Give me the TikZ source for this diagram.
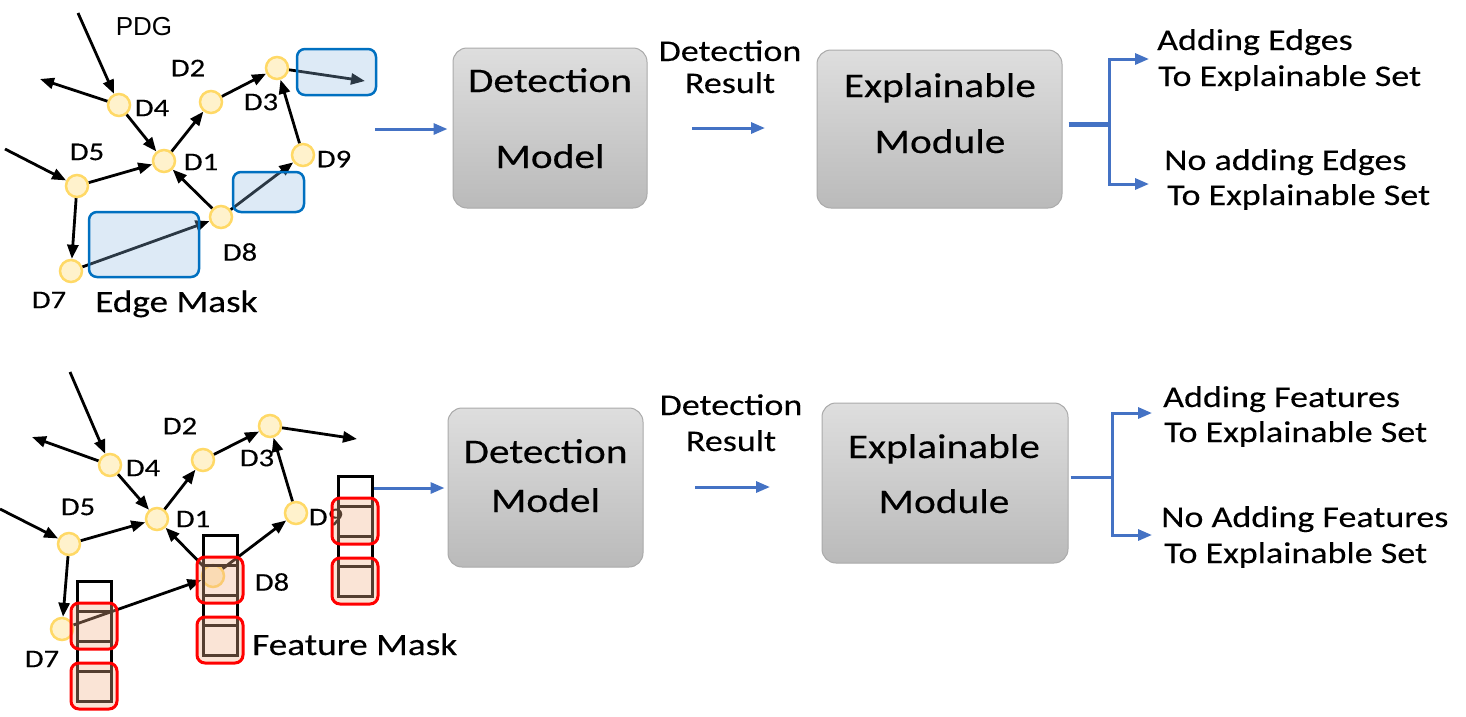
\documentclass[tikz,border=0pt]{standalone}
\usepackage{fontspec}
\newfontfamily\calfont[FakeStretch=1.2,FakeBold=0.25]{Carlito}
\newfontfamily\arialfont{Liberation Sans}
\usetikzlibrary{arrows.meta,calc}
\definecolor{nodefill}{HTML}{FFF2CC}
\definecolor{nodeline}{HTML}{FFD966}
\definecolor{maskblue}{HTML}{0070C0}
\definecolor{maskbluefill}{RGB}{145,188,228}
\definecolor{arrowblue}{HTML}{4472C4}
\definecolor{redfill}{RGB}{243,178,138}
\definecolor{boxtop}{RGB}{222,222,222}
\definecolor{boxbot}{RGB}{186,186,186}
\definecolor{boxline}{RGB}{170,170,170}
\tikzset{
 dnode/.style={circle, draw=nodeline, fill=nodefill, line width=2.5pt, minimum size=22pt, inner sep=0pt},
 dlabel/.style={font=\calfont\fontsize{25.5}{30}\selectfont, inner sep=0pt},
 edgearrow/.style={line width=2.8pt, -{Triangle[length=14pt,width=11pt]}},
 emask/.style={draw=maskblue, line width=2.5pt, fill=maskbluefill, fill opacity=0.3, rounded corners=8pt},
 fmask/.style={draw=red, line width=3pt, fill=redfill, fill opacity=0.35, rounded corners=8pt},
 cell/.style={draw=black, line width=3pt},
 gbox/.style={rectangle, rounded corners=14pt, draw=boxline, line width=1pt, top color=boxtop, bottom color=boxbot, inner sep=0pt},
 boxtext/.style={font=\calfont\fontsize{34.5}{40}\selectfont, inner sep=0pt, anchor=base},
 midtext/.style={font=\calfont\fontsize{30}{36}\selectfont, inner sep=0pt, anchor=base},
 sidetext/.style={font=\calfont\fontsize{30}{36}\selectfont, inner sep=0pt, anchor=base west},
 masktext/.style={font=\calfont\fontsize{31}{36}\selectfont, inner sep=0pt, anchor=base west},
 barrow/.style={draw=arrowblue, line width=3pt, -{Triangle[length=14pt,width=11pt]}},
 bline/.style={draw=arrowblue, line width=3pt},
}
\begin{document}
\begin{tikzpicture}[x=1pt,y=-1pt]
\fill[white] (0,0) rectangle (1466,716);
\useasboundingbox (0,0) rectangle (1466,716);

% ---------------- boxes ----------------
\node[gbox, minimum width=194pt, minimum height=160pt] (dm1) at (550,128) {};
\node[gbox, minimum width=245pt, minimum height=158pt] (em1) at (939.5,129) {};
\node[gbox, minimum width=195pt, minimum height=159pt] (dm2) at (545.5,487.5) {};
\node[gbox, minimum width=246pt, minimum height=160pt] (em2) at (945,483) {};

\node[boxtext] (dm1a) at (550,92) {Detection};
\node[boxtext] (dm1b) at (550,168) {Model};
\node[boxtext] (em1a) at (940,97) {Explainable};
\node[boxtext] (em1b) at (940,153) {Module};
\node[boxtext] (dm2a) at (545.5,463) {Detection};
\node[boxtext] (dm2b) at (545.5,512) {Model};
\node[boxtext] (em2a) at (944,458) {Explainable};
\node[boxtext] (em2b) at (944,513) {Module};

\node[midtext] (dr1a) at (730,61) {Detection};
\node[midtext] (dr1b) at (730,93) {Result};
\node[midtext] (dr2a) at (731,415) {Detection};
\node[midtext] (dr2b) at (731,451) {Result};

% ---------------- blue arrows ----------------
\coordinate (ain1) at (375,129);
\draw[barrow, shorten >=5pt] (ain1) -- (ain1 -| dm1.west);
\coordinate (mr1s) at (692,128);
\coordinate (mr1e) at (765,128);
\draw[barrow] (mr1s) -- (mr1e);
\coordinate (ain2) at (372,488);
\draw[barrow, shorten >=3pt] (ain2) -- (ain2 -| dm2.west);
\coordinate (mr2s) at (695,487);
\coordinate (mr2e) at (770,487);
\draw[barrow] (mr2s) -- (mr2e);

% brackets
\coordinate (j1) at (1109,124);
\coordinate (o1a) at (1149,59);
\coordinate (o1b) at (1149,184);
\draw[bline, line width=5pt, shorten <=6pt] (em1.east |- j1) -- (j1);
\draw[barrow] (j1) |- (o1a);
\draw[barrow] (j1) |- (o1b);
\coordinate (j2) at (1112,477);
\coordinate (o2a) at (1152,413);
\coordinate (o2b) at (1152,535);
\draw[bline, shorten <=2pt] (em2.east |- j2) -- (j2);
\draw[barrow] (j2) |- (o2a);
\draw[barrow] (j2) |- (o2b);

\node[sidetext] (s1a) at (1157,50) {Adding Edges};
\node[sidetext] (s1b) at (1158,86) {To Explainable Set};
\node[sidetext] (s1c) at (1164,170) {No adding Edges};
\node[sidetext] (s1d) at (1167,205) {To Explainable Set};
\node[sidetext] (s2a) at (1163,407) {Adding Features};
\node[sidetext] (s2b) at (1164,442) {To Explainable Set};
\node[sidetext] (s2c) at (1161,527) {No Adding Features};
\node[sidetext] (s2d) at (1164,563) {To Explainable Set};

% ---------------- top graph ----------------
\node[dnode] (t4) at (119,105) {};
\node[dnode] (t2) at (211,102) {};
\node[dnode] (t3) at (277,68) {};
\node[dnode] (t1) at (164,161) {};
\node[dnode] (t5) at (77,186) {};
\node[dnode] (t9) at (303,155) {};
\node[dnode] (t8) at (221,217) {};
\node[dnode] (t7) at (71,271) {};
\coordinate (tpin) at (78,13);
\coordinate (t4o) at (40,79);
\coordinate (t3o) at (365,81);
\coordinate (t5in) at (5,149);

\node[font=\arialfont\fontsize{26}{30}\selectfont, inner sep=0pt, anchor=base] (pdg) at (144,35) {PDG};
\node[dlabel] (lt2) at (188,68) {D2};
\node[dlabel] (lt4) at (152,108) {D4};
\node[dlabel] (lt3) at (261,102) {D3};
\node[dlabel] (lt5) at (87,152) {D5};
\node[dlabel] (lt1) at (201,162) {D1};
\node[dlabel] (lt9) at (334,159) {D9};
\node[dlabel] (lt8) at (240,252) {D8};
\node[dlabel] (lt7) at (49,300) {D7};
\node[masktext] (emtxt) at (95,312) {Edge Mask};

\draw[edgearrow] (tpin) -- (t4);
\draw[edgearrow] (t4) -- (t4o);
\draw[edgearrow] (t4) -- (t1);
\draw[edgearrow] (t1) -- (t2);
\draw[edgearrow] (t2) -- (t3);
\draw[edgearrow] (t3) -- (t3o);
\draw[edgearrow] (t5in) -- (t5);
\draw[edgearrow] (t5) -- (t1);
\draw[edgearrow] (t5) -- (t7);
\draw[edgearrow] (t8) -- (t1);
\draw[edgearrow] (t8) -- (t9);
\draw[edgearrow] (t7) -- (t8);
\draw[edgearrow] (t9) -- (t3);

\draw[emask] (297,49) rectangle (376,95);
\draw[emask] (233,172) rectangle (304,212);
\draw[emask] (89,212) rectangle (199,277);

% ---------------- bottom graph ----------------
\node[dnode] (b4) at (110,465) {};
\node[dnode] (b2) at (203,460) {};
\node[dnode] (b3) at (270,426) {};
\node[dnode] (b1) at (157,519) {};
\node[dnode] (b5) at (69,544) {};
\node[dnode] (b9) at (296,513) {};
\node[dnode] (b8) at (213,576) {};
\node[dnode] (b7) at (62,629) {};
\coordinate (bpin) at (70,372);
\coordinate (b4o) at (32,437);
\coordinate (b3o) at (357,439);
\coordinate (b5in) at (0,509);

\node[dlabel] (lb2) at (180,426) {D2};
\node[dlabel] (lb4) at (143,468) {D4};
\node[dlabel] (lb3) at (257,458) {D3};
\node[dlabel] (lb5) at (78,507) {D5};
\node[dlabel] (lb1) at (193,519) {D1};
\node[dlabel] (lb9) at (326,517) {D9};
\node[dlabel] (lb8) at (272,582) {D8};
\node[dlabel] (lb7) at (42,659) {D7};
\node[masktext] (fmtxt) at (252,655) {Feature Mask};

\draw[edgearrow] (bpin) -- (b4);
\draw[edgearrow] (b4) -- (b4o);
\draw[edgearrow] (b4) -- (b1);
\draw[edgearrow] (b1) -- (b2);
\draw[edgearrow] (b2) -- (b3);
\draw[edgearrow] (b3) -- (b3o);
\draw[edgearrow] (b5in) -- (b5);
\draw[edgearrow] (b5) -- (b1);
\draw[edgearrow] (b5) -- (b7);
\draw[edgearrow] (b8) -- (b1);
\draw[edgearrow] (b8) -- (b9);
\draw[edgearrow] (b7) -- (b8);
\draw[edgearrow] (b9) -- (b3);

% feature columns
\foreach \cx/\cy in {77/581, 203/535, 338/476} {
  \draw[cell] (\cx,\cy) rectangle ++(34,120);
  \draw[cell] (\cx,\cy+30) -- ++(34,0);
  \draw[cell] (\cx,\cy+60) -- ++(34,0);
  \draw[cell] (\cx,\cy+90) -- ++(34,0);
  \draw[fmask] (\cx-6,\cy+22) rectangle ++(46,46);
  \draw[fmask] (\cx-6,\cy+82) rectangle ++(46,46);
}
\end{tikzpicture}
\end{document}
